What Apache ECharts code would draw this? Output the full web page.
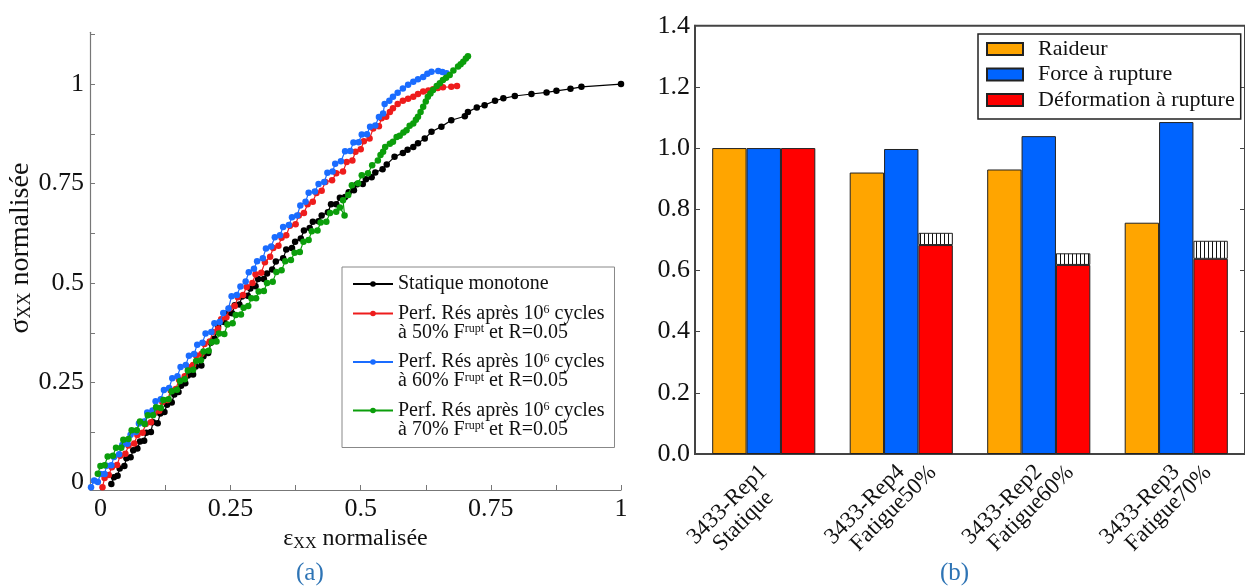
<!DOCTYPE html>
<html><head><meta charset="utf-8">
<script src="https://cdn.jsdelivr.net/npm/echarts@6/dist/echarts.min.js"></script>
<style>html,body{margin:0;padding:0;background:#fff}#c{width:1245px;height:588px}</style>
</head><body><div id="c"></div><script>
// ---------- (a) stress–strain curves ----------
const staticMonotone = [[0.021,-0.005],[0.026,0.012],[0.033,0.016],[0.037,0.034],[0.046,0.040],[0.050,0.060],[0.058,0.062],[0.063,0.080],[0.071,0.084],[0.076,0.102],[0.084,0.104],[0.088,0.124],[0.097,0.126],[0.101,0.150],[0.110,0.148],[0.115,0.172],[0.123,0.176],[0.128,0.194],[0.137,0.200],[0.142,0.220],[0.150,0.226],[0.155,0.242],[0.163,0.248],[0.168,0.268],[0.178,0.270],[0.183,0.290],[0.194,0.293],[0.198,0.316],[0.207,0.324],[0.212,0.350],[0.219,0.360],[0.226,0.390],[0.238,0.402],[0.244,0.424],[0.253,0.424],[0.258,0.444],[0.267,0.446],[0.272,0.466],[0.283,0.468],[0.288,0.486],[0.298,0.492],[0.303,0.510],[0.314,0.510],[0.320,0.524],[0.330,0.534],[0.337,0.554],[0.351,0.562],[0.357,0.584],[0.368,0.588],[0.374,0.604],[0.385,0.612],[0.391,0.632],[0.402,0.638],[0.408,0.654],[0.419,0.655],[0.425,0.670],[0.437,0.678],[0.443,0.698],[0.453,0.698],[0.460,0.714],[0.470,0.716],[0.477,0.728],[0.487,0.733],[0.493,0.748],[0.504,0.749],[0.510,0.761],[0.521,0.766],[0.528,0.778],[0.542,0.786],[0.550,0.798],[0.565,0.817],[0.581,0.827],[0.590,0.835],[0.601,0.842],[0.610,0.851],[0.623,0.863],[0.636,0.880],[0.655,0.893],[0.674,0.909],[0.700,0.919],[0.706,0.930],[0.723,0.941],[0.738,0.947],[0.758,0.958],[0.774,0.964],[0.796,0.970],[0.828,0.975],[0.857,0.979],[0.876,0.983],[0.903,0.988],[0.924,0.993],[1.0,1.0]];
const perf50 = [[0.004,-0.013],[0.008,0.010],[0.016,0.018],[0.022,0.037],[0.032,0.043],[0.038,0.066],[0.048,0.071],[0.054,0.092],[0.065,0.097],[0.071,0.118],[0.081,0.124],[0.087,0.146],[0.097,0.150],[0.103,0.173],[0.113,0.179],[0.119,0.201],[0.129,0.206],[0.135,0.230],[0.145,0.234],[0.151,0.257],[0.162,0.266],[0.168,0.289],[0.178,0.294],[0.184,0.318],[0.194,0.322],[0.200,0.347],[0.210,0.353],[0.216,0.377],[0.226,0.385],[0.232,0.409],[0.242,0.414],[0.248,0.436],[0.258,0.442],[0.264,0.464],[0.274,0.470],[0.281,0.490],[0.292,0.500],[0.298,0.522],[0.309,0.526],[0.316,0.552],[0.326,0.566],[0.332,0.588],[0.342,0.594],[0.348,0.614],[0.357,0.620],[0.364,0.644],[0.375,0.648],[0.381,0.670],[0.391,0.676],[0.398,0.698],[0.408,0.704],[0.415,0.726],[0.425,0.732],[0.432,0.754],[0.445,0.758],[0.453,0.776],[0.466,0.780],[0.473,0.804],[0.484,0.808],[0.490,0.830],[0.500,0.836],[0.506,0.856],[0.517,0.863],[0.524,0.888],[0.535,0.894],[0.540,0.914],[0.549,0.918],[0.556,0.930],[0.562,0.939],[0.571,0.950],[0.581,0.958],[0.591,0.963],[0.601,0.968],[0.610,0.975],[0.620,0.981],[0.630,0.984],[0.639,0.987],[0.648,0.990],[0.658,0.992],[0.674,0.993],[0.685,0.995]];
const perf60 = [[-0.018,-0.013],[-0.012,0.004],[-0.005,0.000],[0.000,0.020],[0.008,0.020],[0.012,0.041],[0.021,0.042],[0.026,0.063],[0.036,0.070],[0.042,0.093],[0.052,0.096],[0.058,0.119],[0.068,0.126],[0.074,0.147],[0.084,0.152],[0.090,0.175],[0.100,0.180],[0.106,0.203],[0.116,0.208],[0.122,0.231],[0.132,0.236],[0.138,0.261],[0.148,0.266],[0.154,0.289],[0.164,0.294],[0.170,0.317],[0.180,0.322],[0.186,0.345],[0.196,0.350],[0.202,0.373],[0.213,0.377],[0.219,0.399],[0.229,0.402],[0.236,0.425],[0.246,0.436],[0.252,0.467],[0.262,0.470],[0.269,0.491],[0.279,0.504],[0.285,0.527],[0.295,0.536],[0.301,0.555],[0.312,0.562],[0.318,0.587],[0.328,0.592],[0.335,0.615],[0.345,0.620],[0.351,0.641],[0.362,0.646],[0.368,0.665],[0.378,0.670],[0.384,0.695],[0.394,0.704],[0.400,0.727],[0.412,0.730],[0.419,0.749],[0.430,0.754],[0.436,0.777],[0.446,0.780],[0.451,0.800],[0.462,0.806],[0.470,0.831],[0.480,0.832],[0.486,0.853],[0.496,0.854],[0.502,0.873],[0.512,0.874],[0.518,0.893],[0.528,0.896],[0.535,0.917],[0.543,0.926],[0.546,0.950],[0.555,0.958],[0.562,0.968],[0.571,0.978],[0.581,0.989],[0.591,0.998],[0.601,1.006],[0.610,1.012],[0.620,1.018],[0.628,1.026],[0.636,1.031],[0.649,1.033],[0.657,1.030],[0.665,1.027]];
const perf70 = [[-0.005,0.021],[0.000,0.040],[0.008,0.042],[0.014,0.064],[0.024,0.066],[0.030,0.086],[0.040,0.086],[0.044,0.106],[0.054,0.108],[0.060,0.130],[0.070,0.130],[0.076,0.152],[0.085,0.146],[0.091,0.168],[0.101,0.168],[0.107,0.188],[0.116,0.186],[0.121,0.206],[0.131,0.208],[0.137,0.228],[0.147,0.232],[0.153,0.254],[0.162,0.258],[0.168,0.280],[0.178,0.282],[0.184,0.304],[0.193,0.306],[0.198,0.328],[0.208,0.330],[0.214,0.352],[0.223,0.353],[0.228,0.373],[0.238,0.372],[0.244,0.396],[0.254,0.399],[0.260,0.420],[0.270,0.421],[0.275,0.438],[0.284,0.442],[0.290,0.462],[0.299,0.462],[0.304,0.479],[0.314,0.480],[0.320,0.500],[0.331,0.503],[0.338,0.528],[0.348,0.532],[0.355,0.555],[0.366,0.558],[0.373,0.576],[0.383,0.578],[0.390,0.604],[0.400,0.608],[0.406,0.630],[0.417,0.632],[0.423,0.652],[0.434,0.654],[0.441,0.676],[0.453,0.679],[0.460,0.690],[0.469,0.670],[0.466,0.708],[0.476,0.721],[0.483,0.746],[0.495,0.751],[0.502,0.771],[0.514,0.776],[0.522,0.796],[0.533,0.808],[0.538,0.822],[0.543,0.830],[0.547,0.842],[0.556,0.850],[0.562,0.855],[0.569,0.867],[0.575,0.870],[0.582,0.878],[0.588,0.884],[0.594,0.895],[0.601,0.901],[0.606,0.910],[0.610,0.918],[0.615,0.930],[0.620,0.943],[0.625,0.956],[0.629,0.968],[0.634,0.976],[0.639,0.985],[0.646,0.995],[0.652,1.002],[0.658,1.010],[0.664,1.016],[0.671,1.023],[0.678,1.034],[0.687,1.044],[0.692,1.050],[0.697,1.056],[0.702,1.064],[0.706,1.070]];
const curveNames = ['Statique monotone','Perf. Rés après 10^6 cycles à 50% F^rupt et R=0.05','Perf. Rés après 10^6 cycles à 60% F^rupt et R=0.05','Perf. Rés après 10^6 cycles à 70% F^rupt et R=0.05'];
const curveColors = ['#000000','#ee1c1c','#1a6cff','#0b9e0b'];
const xTicksA = [0,0.125,0.25,0.375,0.5,0.625,0.75,0.875,1];
const xLabelsA = [0,0.25,0.5,0.75,1];
const yTicksA = [0,0.125,0.25,0.375,0.5,0.625,0.75,0.875,1,1.125];
const yLabelsA = [0,0.25,0.5,0.75,1];

// ---------- (b) bar chart ----------
const categories = ['3433-Rep1\nStatique','3433-Rep4\nFatigue50%','3433-Rep2\nFatigue60%','3433-Rep3\nFatigue70%'];
const raideur = [1.0,0.920,0.930,0.756];
const forceRupture = [1.0,0.997,1.039,1.085];
const deformationRupture = [1.0,0.683,0.618,0.638];
const deformationMax = [null,0.723,0.656,0.697];
const barNames = ['Raideur','Force à rupture','Déformation à rupture'];
const barColors = ['#ffa500','#0064ff','#ff0000'];

const FONT = 'Liberation Serif';
const hatchCanvas = document.createElement('canvas');
hatchCanvas.width = 4; hatchCanvas.height = 4;
const hg = hatchCanvas.getContext('2d');
hg.fillStyle = '#ffffff'; hg.fillRect(0,0,4,4);
hg.fillStyle = '#111111'; hg.fillRect(0,0,1,4);

const hatchData = deformationMax.map((v,i) => v == null ? '-' : +(v - deformationRupture[i]).toFixed(3));

const legendRich = {
  t: {fontFamily: FONT, fontSize: 20, lineHeight: 19, color: '#111'},
  s: {fontFamily: FONT, fontSize: 12, lineHeight: 12, verticalAlign: 'top', color: '#111'}
};
function legendLabel(name) {
  if (name.indexOf('^') < 0) return '{t|' + name + '}';
  const m = name.match(/^(.*)10\^6 cycles (.*)F\^rupt(.*)$/);
  return '{t|' + m[1] + '10}{s|6}{t| cycles}\n{t|' + m[2] + 'F}{s|rupt}{t|' + m[3] + '}';
}

const chart = echarts.init(document.getElementById('c'), null, {renderer: 'canvas'});
const opt = {
  animation: false,
  backgroundColor: '#fff',
  textStyle: {fontFamily: FONT},
  grid: [
    {left: 90, top: 32.3, width: 531, height: 457.7},
    {left: 695, top: 25.7, right: -3, height: 428.3, show: true, borderColor: '#444', borderWidth: 2}
  ],
  legend: [
    {
      orient: 'vertical', left: 342, top: 267,
      itemWidth: 40, itemHeight: 7, itemGap: -9,
      padding: [7, 10, 8, 10],
      borderColor: '#888', borderWidth: 1, backgroundColor: '#fff',
      textStyle: {fontFamily: FONT, fontSize: 20, lineHeight: 19, color: '#111', rich: legendRich},
      formatter: legendLabel,
      data: curveNames.map((n,i) => i === 0 ? {name: n} : {name: n, textStyle: {padding: [19,0,0,0]}})
    },
    {
      orient: 'vertical', left: 978, top: 34,
      itemWidth: 36, itemHeight: 12, itemGap: 3.5,
      padding: [4, 6, 8, 8],
      borderColor: '#222', borderWidth: 1.5, backgroundColor: '#fff',
      icon: 'rect',
      textStyle: {fontFamily: FONT, fontSize: 22, lineHeight: 22, color: '#111', padding: [0,0,0,10]},
      data: barNames
    }
  ],
  xAxis: [
    {
      gridIndex: 0, type: 'value', min: -0.02, max: 1,
      axisLine: {show: true, onZero: false, lineStyle: {color: '#777', width: 1.2}},
      axisTick: {show: true, inside: true, length: 5, customValues: xTicksA, lineStyle: {color: '#777'}},
      axisLabel: {customValues: xLabelsA, fontFamily: FONT, fontSize: 26, color: '#111', margin: 6, formatter: v => String(v)},
      splitLine: {show: false},
      name: '{e|ε}{s|XX}{e| normalisée}', nameLocation: 'middle', nameGap: 30,
      nameTextStyle: {rich: {
        e: {fontFamily: FONT, fontSize: 24, color: '#111', lineHeight: 26},
        s: {fontFamily: FONT, fontSize: 16, color: '#111', verticalAlign: 'bottom', lineHeight: 18}
      }}
    },
    {
      gridIndex: 1, type: 'category', data: categories,
      axisLine: {show: true, lineStyle: {color: '#444', width: 2}},
      axisTick: {show: true, inside: true, alignWithLabel: true, length: 5, lineStyle: {color: '#444'}},
      axisLabel: {
        rotate: 45, margin: 15, interval: 0, color: '#111', padding: [22, 0, 0, 0],
        formatter: v => { const p = v.split('\n'); return '{a|' + p[0] + '}\n{b|' + p[1] + '}'; },
        rich: {
          a: {fontFamily: FONT, fontSize: 23, lineHeight: 23, width: 102, align: 'left', color: '#111'},
          b: {fontFamily: FONT, fontSize: 23, lineHeight: 23, width: 89, padding: [0, 0, 0, 13], align: 'left', color: '#111'}
        }
      },
      splitLine: {show: false}
    }
  ],
  yAxis: [
    {
      gridIndex: 0, type: 'value', min: -0.02, max: 1.13,
      axisLine: {show: true, onZero: false, lineStyle: {color: '#777', width: 1.2}},
      axisTick: {show: true, inside: true, length: 5, customValues: yTicksA, lineStyle: {color: '#777'}},
      axisLabel: {customValues: yLabelsA, fontFamily: FONT, fontSize: 26, color: '#111', margin: 6, formatter: v => String(v)},
      splitLine: {show: false},
      name: '{e|σ}{s|XX}{e| normalisée}', nameLocation: 'middle', nameGap: 44,
      nameTextStyle: {padding: [0, 0, 0, 26], rich: {
        e: {fontFamily: FONT, fontSize: 28, color: '#111', lineHeight: 28},
        s: {fontFamily: FONT, fontSize: 18, color: '#111', verticalAlign: 'bottom', lineHeight: 20}
      }}
    },
    {
      gridIndex: 1, type: 'value', min: 0, max: 1.4, interval: 0.2,
      axisLine: {show: true, lineStyle: {color: '#444', width: 2}},
      axisTick: {show: true, inside: true, length: 5, lineStyle: {color: '#444'}},
      axisLabel: {fontFamily: FONT, fontSize: 26, color: '#111', margin: 5, formatter: v => v.toFixed(1)},
      splitLine: {show: false}
    },
    {
      gridIndex: 1, type: 'value', position: 'right', min: 0, max: 1.4, interval: 0.2,
      axisLine: {show: false},
      axisTick: {show: true, inside: true, length: 5, lineStyle: {color: '#444'}},
      axisLabel: {show: false},
      splitLine: {show: false}
    }
  ],
  series: [
    ...[staticMonotone, perf50, perf60, perf70].map((d,i) => ({
      type: 'line', name: curveNames[i], xAxisIndex: 0, yAxisIndex: 0,
      data: d, symbol: 'circle', symbolSize: 6.5, showAllSymbol: true,
      lineStyle: {width: 1.2, color: curveColors[i]},
      itemStyle: {color: curveColors[i]},
      z: 2 + i
    })),
    {type: 'bar', name: barNames[0], xAxisIndex: 1, yAxisIndex: 1, data: raideur,
     barGap: '0%', barCategoryGap: '25%',
     itemStyle: {color: barColors[0], borderColor: '#222', borderWidth: 1}},
    {type: 'bar', name: barNames[1], xAxisIndex: 1, yAxisIndex: 1, data: forceRupture,
     itemStyle: {color: barColors[1], borderColor: '#222', borderWidth: 1}},
    {type: 'bar', name: barNames[2], xAxisIndex: 1, yAxisIndex: 1, data: deformationRupture, stack: 'def',
     itemStyle: {color: barColors[2], borderColor: '#222', borderWidth: 1}},
    {type: 'bar', name: 'Dispersion', xAxisIndex: 1, yAxisIndex: 1, data: hatchData, stack: 'def',
     itemStyle: {color: {image: hatchCanvas, repeat: 'repeat'}, borderColor: '#222', borderWidth: 1}}
  ],
  graphic: [
    {type: 'text', left: 296, top: 561, style: {text: '(a)', font: '25px "Liberation Serif"', fill: '#2e74b5'}},
    {type: 'text', left: 940, top: 561, style: {text: '(b)', font: '25px "Liberation Serif"', fill: '#2e74b5'}}
  ]
};
chart.setOption(opt);
</script></body></html>
